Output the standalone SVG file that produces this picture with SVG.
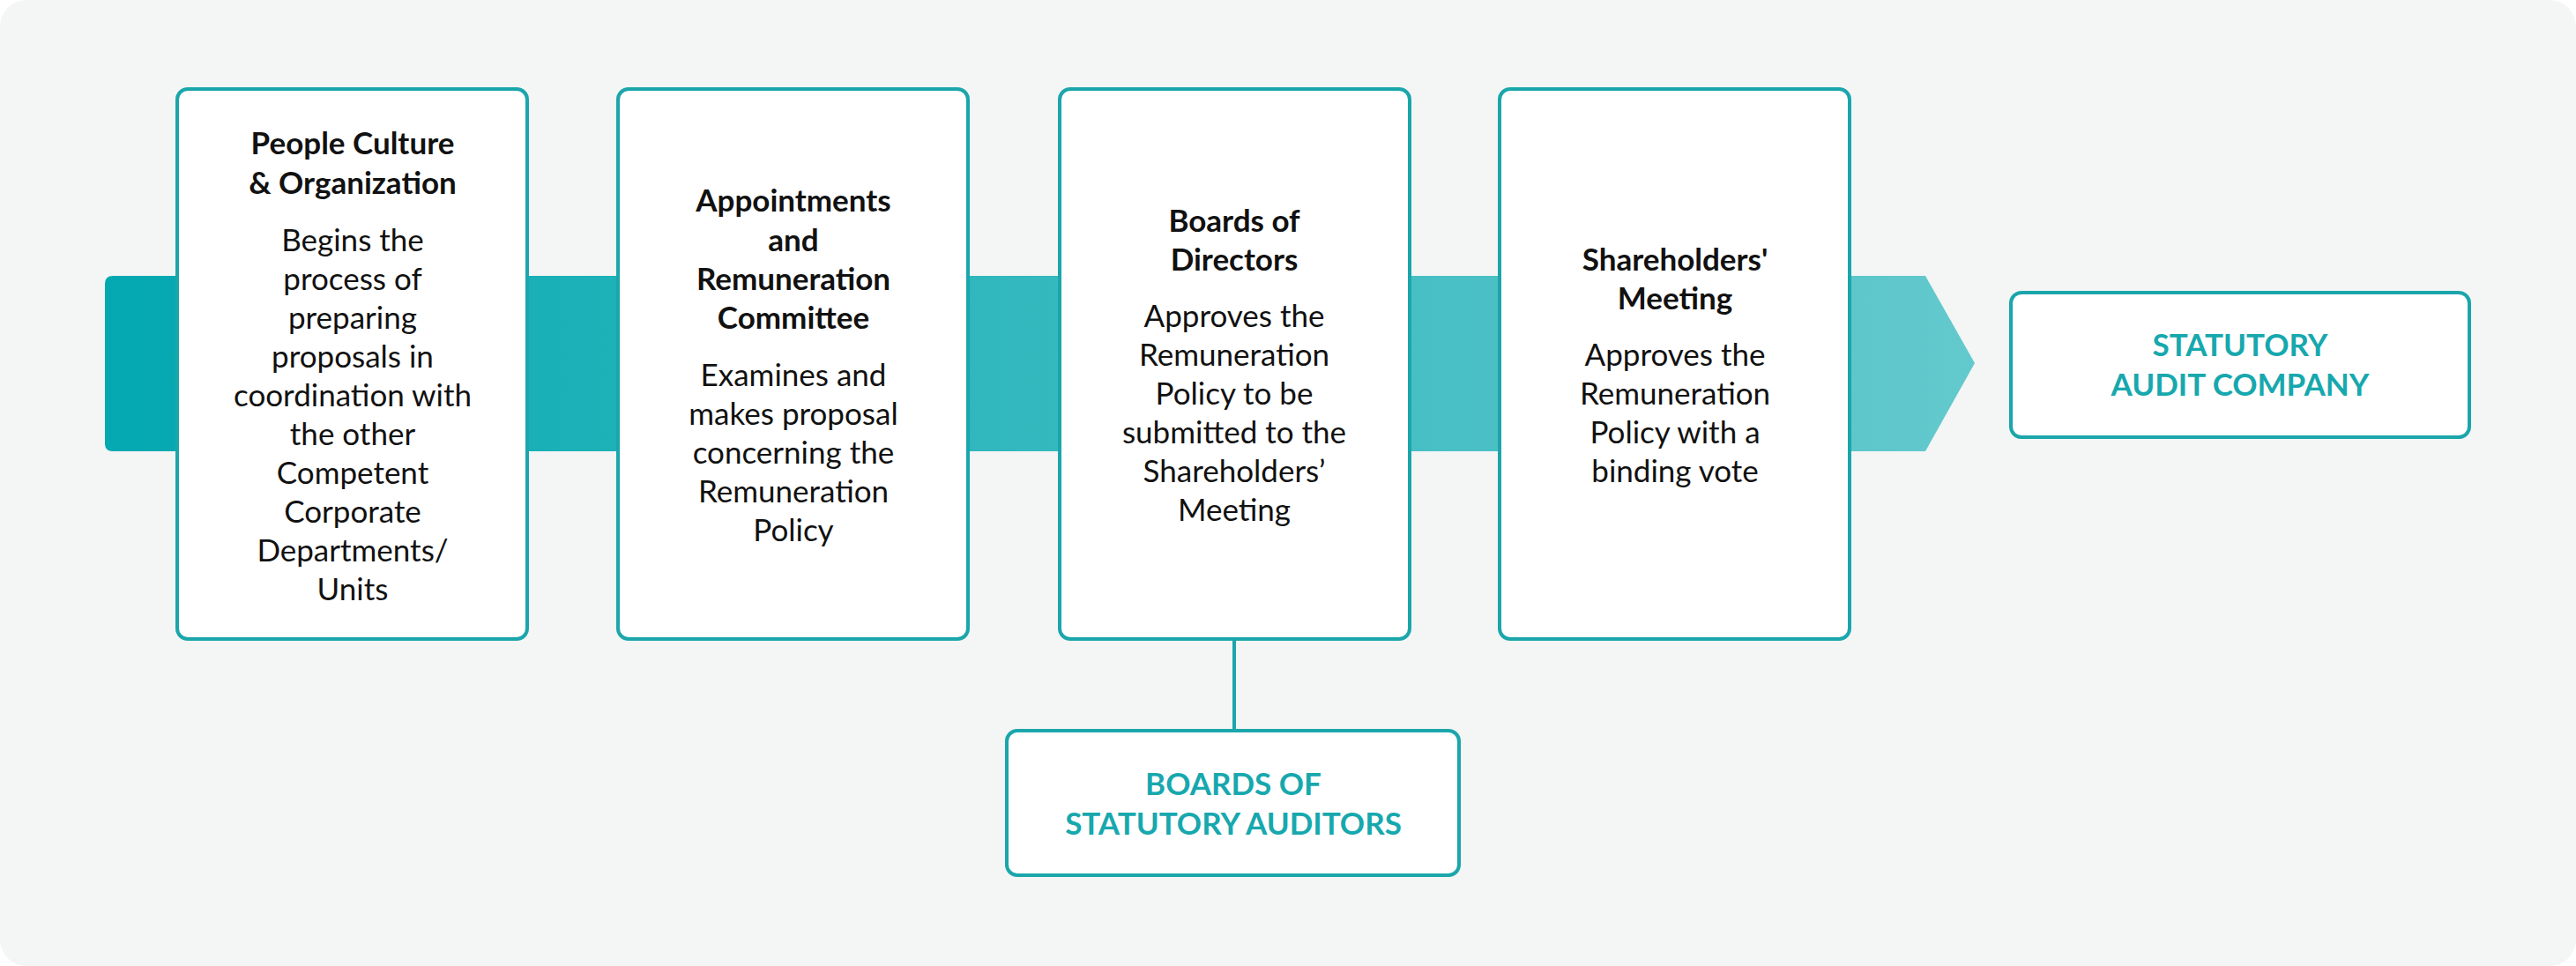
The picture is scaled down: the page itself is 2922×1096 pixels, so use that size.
<svg xmlns="http://www.w3.org/2000/svg" width="2922" height="1096" viewBox="0 0 2922 1096">
<style>
.box{fill:#fff;stroke:#1aa6ab;stroke-width:4}
text{font-family:Lato,"Open Sans",sans-serif;font-size:35px;text-anchor:middle;fill:#111}
.t{font-weight:bold}
.c{font-weight:bold;fill:#17a8ae}
</style>
<defs>
<linearGradient id="g" x1="0" x2="1" y1="0" y2="0">
<stop offset="0" stop-color="#03a8b0"/><stop offset="1" stop-color="#63c9cd"/>
</linearGradient>
</defs>
<rect x="0" y="0" width="2922" height="1096" rx="30" fill="#f4f5f5"/>
<path d="M128,313 H2184 L2240,412 L2184,512 H128 Q119,512 119,503 V322 Q119,313 128,313 Z" fill="url(#g)"/>
<g id="connectors"><line x1="1400" y1="725" x2="1400" y2="829" stroke="#1aa6ab" stroke-width="4"/></g>
<g id="n1"><rect class="box" x="201" y="101" width="397" height="624" rx="12"/>
<text x="400" class="t"><tspan y="175">People Culture</tspan><tspan x="400" y="220">&amp; Organization</tspan></text>
<text x="400"><tspan y="285">Begins the</tspan><tspan x="400" y="329">process of</tspan><tspan x="400" y="373">preparing</tspan><tspan x="400" y="417">proposals in</tspan><tspan x="400" y="461">coordination with</tspan><tspan x="400" y="505">the other</tspan><tspan x="400" y="549">Competent</tspan><tspan x="400" y="593">Corporate</tspan><tspan x="400" y="637">Departments/</tspan><tspan x="400" y="681">Units</tspan></text></g>
<g id="n2"><rect class="box" x="701" y="101" width="397" height="624" rx="12"/>
<text x="900" class="t"><tspan y="240">Appointments</tspan><tspan x="900" y="285">and</tspan><tspan x="900" y="329">Remuneration</tspan><tspan x="900" y="373">Committee</tspan></text>
<text x="900"><tspan y="438">Examines and</tspan><tspan x="900" y="482">makes proposal</tspan><tspan x="900" y="526">concerning the</tspan><tspan x="900" y="570">Remuneration</tspan><tspan x="900" y="614">Policy</tspan></text></g>
<g id="n3"><rect class="box" x="1202" y="101" width="397" height="624" rx="12"/>
<text x="1400" class="t"><tspan y="263">Boards of</tspan><tspan x="1400" y="307">Directors</tspan></text>
<text x="1400"><tspan y="371">Approves the</tspan><tspan x="1400" y="415">Remuneration</tspan><tspan x="1400" y="459">Policy to be</tspan><tspan x="1400" y="503">submitted to the</tspan><tspan x="1400" y="547">Shareholders’</tspan><tspan x="1400" y="591">Meeting</tspan></text></g>
<g id="n4"><rect class="box" x="1701" y="101" width="397" height="624" rx="12"/>
<text x="1900" class="t"><tspan y="307">Shareholders'</tspan><tspan x="1900" y="351">Meeting</tspan></text>
<text x="1900"><tspan y="415">Approves the</tspan><tspan x="1900" y="459">Remuneration</tspan><tspan x="1900" y="503">Policy with a</tspan><tspan x="1900" y="547">binding vote</tspan></text></g>
<g id="n5"><rect class="box" x="2281" y="332" width="520" height="164" rx="12"/>
<text x="2541" class="c"><tspan y="404">STATUTORY</tspan><tspan x="2541" y="449">AUDIT COMPANY</tspan></text></g>
<g id="n6"><rect class="box" x="1142" y="829" width="513" height="164" rx="12"/>
<text x="1399" class="c"><tspan y="902">BOARDS OF</tspan><tspan x="1399" y="947">STATUTORY AUDITORS</tspan></text></g>
</svg>
